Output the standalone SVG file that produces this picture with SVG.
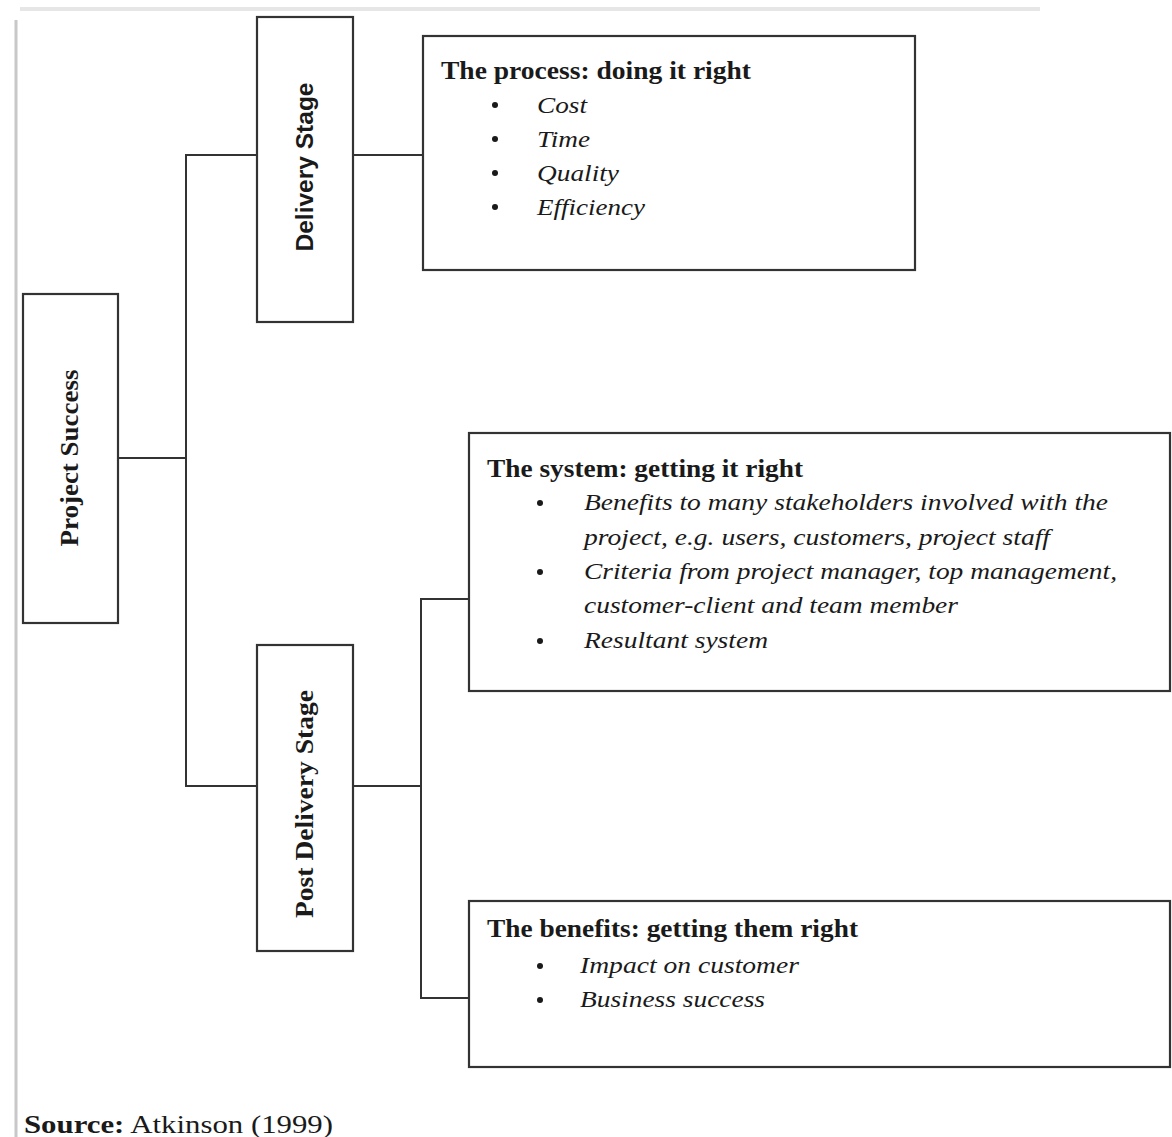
<svg xmlns="http://www.w3.org/2000/svg" width="1172" height="1137" viewBox="0 0 1172 1137">
  <style>
    .box { fill: #ffffff; stroke: #333333; stroke-width: 2.2; }
    .conn { fill: none; stroke: #333333; stroke-width: 2; }
    .title { font-family: "Liberation Serif", "Times New Roman", serif; font-weight: bold; font-size: 25px; fill: #1a1a1a; }
    .item { font-family: "Liberation Serif", "Times New Roman", serif; font-style: italic; font-size: 24px; fill: #1a1a1a; }
    .bullet { fill: #1a1a1a; }
    .vlabel { font-family: "Liberation Serif", "Times New Roman", serif; font-weight: bold; font-size: 26px; fill: #1a1a1a; text-anchor: middle; }
    .vsans { font-family: "Liberation Sans", Arial, sans-serif; font-weight: bold; font-size: 23px; fill: #1a1a1a; text-anchor: middle; }
    .src { font-family: "Liberation Serif", "Times New Roman", serif; font-size: 25px; fill: #1a1a1a; }
  </style>

  <rect x="0" y="0" width="1172" height="1137" fill="#ffffff"/>
  <!-- page edge -->
  <line x1="16" y1="20" x2="16" y2="1137" stroke="#c8c8c8" stroke-width="3"/>
  <line x1="20" y1="9" x2="1040" y2="9" stroke="#e6e6e6" stroke-width="4"/>

  <g id="connectors">
    <path class="conn" d="M118 458 H186"/>
    <path class="conn" d="M257 155 H186 V786 H257"/>
    <path class="conn" d="M353 155 H423"/>
    <path class="conn" d="M353 786 H421"/>
    <path class="conn" d="M469 599 H421 V998 H469"/>
  </g>

  <g id="project-success">
    <rect class="box" x="23" y="294" width="95" height="329"/>
    <text class="vlabel" transform="translate(78 458) rotate(-90)" textLength="177" lengthAdjust="spacingAndGlyphs">Project Success</text>
  </g>

  <g id="delivery-stage">
    <rect class="box" x="257" y="17" width="96" height="305"/>
    <text class="vsans" transform="translate(313 167) rotate(-90)" textLength="169" lengthAdjust="spacingAndGlyphs">Delivery Stage</text>
  </g>

  <g id="post-delivery-stage">
    <rect class="box" x="257" y="645" width="96" height="306"/>
    <text class="vlabel" transform="translate(313 804) rotate(-90)" textLength="228" lengthAdjust="spacingAndGlyphs">Post Delivery Stage</text>
  </g>

  <g id="process">
    <rect class="box" x="423" y="36" width="492" height="234"/>
    <text class="title" x="441" y="79" textLength="310" lengthAdjust="spacingAndGlyphs">The process: doing it right</text>
    <circle class="bullet" cx="495" cy="105" r="3"/>
    <circle class="bullet" cx="495" cy="139" r="3"/>
    <circle class="bullet" cx="495" cy="173" r="3"/>
    <circle class="bullet" cx="495" cy="207" r="3"/>
    <text class="item" x="537" y="113" textLength="50" lengthAdjust="spacingAndGlyphs">Cost</text>
    <text class="item" x="537" y="147" textLength="53" lengthAdjust="spacingAndGlyphs">Time</text>
    <text class="item" x="537" y="181" textLength="82" lengthAdjust="spacingAndGlyphs">Quality</text>
    <text class="item" x="537" y="215" textLength="108" lengthAdjust="spacingAndGlyphs">Efficiency</text>
  </g>

  <g id="system">
    <rect class="box" x="469" y="433" width="701" height="258"/>
    <text class="title" x="487" y="477" textLength="316" lengthAdjust="spacingAndGlyphs">The system: getting it right</text>
    <circle class="bullet" cx="540" cy="503" r="3"/>
    <circle class="bullet" cx="540" cy="572" r="3"/>
    <circle class="bullet" cx="540" cy="641" r="3"/>
    <text class="item" x="584" y="510" textLength="524" lengthAdjust="spacingAndGlyphs">Benefits to many stakeholders involved with the</text>
    <text class="item" x="584" y="545" textLength="466" lengthAdjust="spacingAndGlyphs">project, e.g. users, customers, project staff</text>
    <text class="item" x="584" y="579" textLength="533" lengthAdjust="spacingAndGlyphs">Criteria from project manager, top management,</text>
    <text class="item" x="584" y="613" textLength="374" lengthAdjust="spacingAndGlyphs">customer-client and team member</text>
    <text class="item" x="584" y="648" textLength="184" lengthAdjust="spacingAndGlyphs">Resultant system</text>
  </g>

  <g id="benefits">
    <rect class="box" x="469" y="901" width="701" height="166"/>
    <text class="title" x="487" y="937" textLength="371" lengthAdjust="spacingAndGlyphs">The benefits: getting them right</text>
    <circle class="bullet" cx="540" cy="966" r="3"/>
    <circle class="bullet" cx="540" cy="1000" r="3"/>
    <text class="item" x="580" y="973" textLength="219" lengthAdjust="spacingAndGlyphs">Impact on customer</text>
    <text class="item" x="580" y="1007" textLength="185" lengthAdjust="spacingAndGlyphs">Business success</text>
  </g>

  <text class="src" x="24" y="1133" textLength="309" lengthAdjust="spacingAndGlyphs"><tspan font-weight="bold">Source:</tspan> Atkinson (1999)</text>
</svg>
